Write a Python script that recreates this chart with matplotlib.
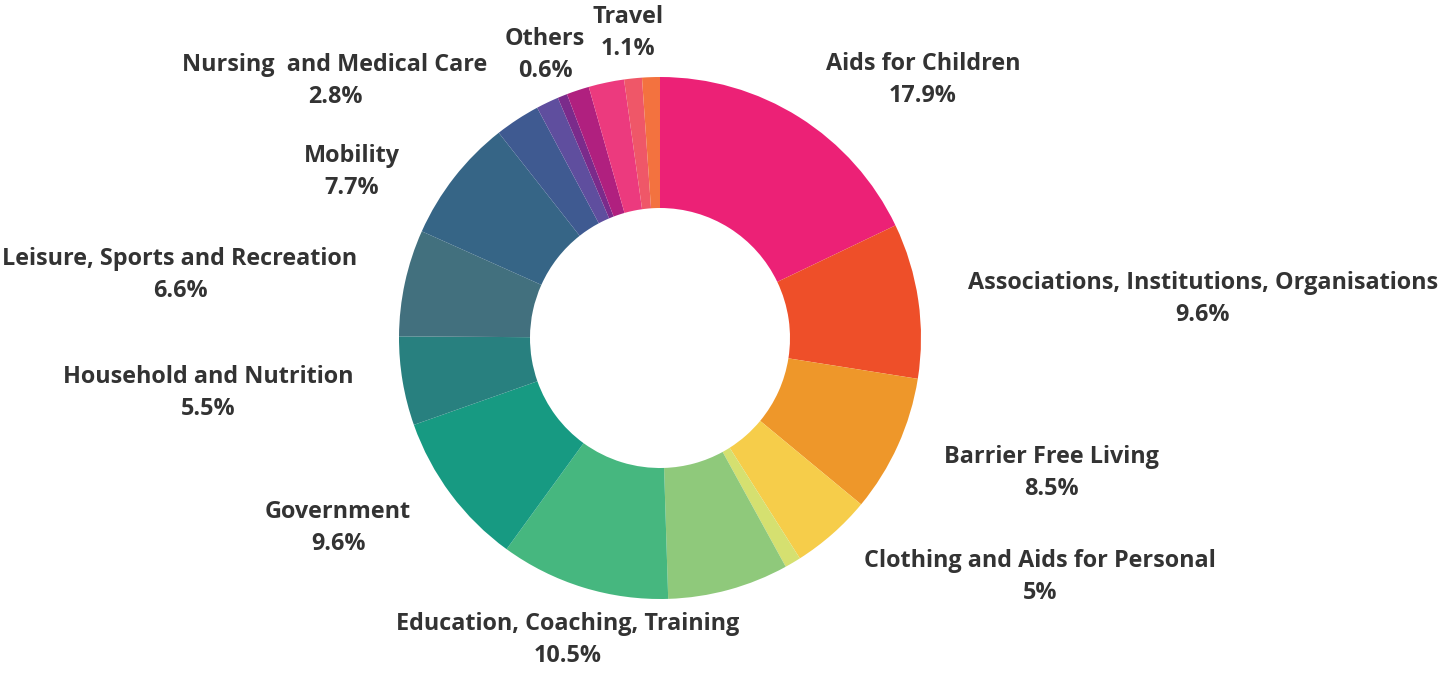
import matplotlib
matplotlib.use('Agg')
import matplotlib.pyplot as plt

# slices clockwise from 12 o'clock
shares = [17.9, 9.6, 8.5, 5.0, 1.0, 7.5, 10.5, 9.6, 5.5, 6.6, 7.7, 2.8, 1.4, 0.6, 1.4, 2.2, 1.1, 1.1]
colors = ['#EC2176', '#EE4F29', '#EE972A', '#F6CD4A', '#D5E070', '#8FC97B',
          '#46B77F', '#179A82', '#28807F', '#42707E', '#366586', '#3F5A91',
          '#5F4E9E', '#7B2B8B', '#B0207F', '#EC3A7E', '#EF5768', '#F3723F']

# labelled categories and where their text sits (pixels)
label_names = ['Aids for Children', 'Associations, Institutions, Organisations',
               'Barrier Free Living', 'Clothing and Aids for Personal',
               'Education, Coaching, Training', 'Government', 'Household and Nutrition',
               'Leisure, Sports and Recreation', 'Mobility', 'Nursing  and Medical Care',
               'Others', 'Travel']
label_pct = ['17.9%', '9.6%', '8.5%', '5%', '10.5%', '9.6%', '5.5%', '6.6%',
             '7.7%', '2.8%', '0.6%', '1.1%']
label_xy = [(923, 80), (1203, 299), (1051, 473), (1040, 577), (568, 640),
            (338, 528), (208, 393), (180, 275), (352, 172), (335, 81),
            (545, 55), (628, 33)]

W, H = 1439, 675
fig = plt.figure(figsize=(W / 100, H / 100), dpi=100)
ax = fig.add_axes([0, 0, 1, 1])

ax.pie(shares, colors=colors, startangle=90, counterclock=False,
       center=(660, H - 338), radius=261,
       wedgeprops=dict(width=131, linewidth=0))

for name, pct, (x, y) in zip(label_names, label_pct, label_xy):
    ax.text(x, H - y, name + '\n' + pct, ha='center', va='center',
            fontsize=16.8, fontweight='bold', color='#333333',
            family=['Open Sans', 'DejaVu Sans'], linespacing=1.4)

ax.set_xlim(0, W)
ax.set_ylim(0, H)
ax.set_aspect('equal')
ax.axis('off')

fig.savefig('out.png', dpi=100, facecolor='white')
